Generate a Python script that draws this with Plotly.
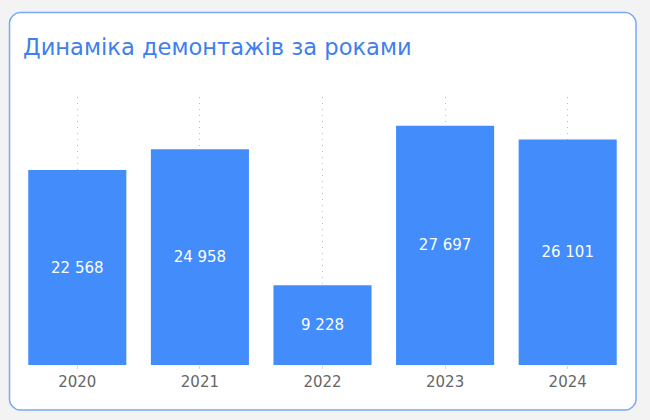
import plotly.graph_objects as go

years = ["2020", "2021", "2022", "2023", "2024"]
values = [22568, 24958, 9228, 27697, 26101]
labels = ["22 568", "24 958", "9 228", "27 697", "26 101"]

W, H = 650, 420
ml, mr, mt, mb = 16, 21, 97, 55
pw, ph = W - ml - mr, H - mt - mb

def px(x):
    return (x - ml) / pw

def py(y):
    return (H - mb - y) / ph

# rounded rectangle (pixel coords -> paper coords)
x0, x1, y0, y1, r = 9.5, 636, 12.5, 410, 10
k = 0.45 * r
path = (
    f"M {px(x0 + r)},{py(y0)} L {px(x1 - r)},{py(y0)} "
    f"C {px(x1 - r + k)},{py(y0)} {px(x1)},{py(y0 + r - k)} {px(x1)},{py(y0 + r)} "
    f"L {px(x1)},{py(y1 - r)} "
    f"C {px(x1)},{py(y1 - r + k)} {px(x1 - r + k)},{py(y1)} {px(x1 - r)},{py(y1)} "
    f"L {px(x0 + r)},{py(y1)} "
    f"C {px(x0 + r - k)},{py(y1)} {px(x0)},{py(y1 - r + k)} {px(x0)},{py(y1 - r)} "
    f"L {px(x0)},{py(y0 + r)} "
    f"C {px(x0)},{py(y0 + r - k)} {px(x0 + r - k)},{py(y0)} {px(x0 + r)},{py(y0)} Z"
)

fig = go.Figure(
    go.Bar(
        x=years,
        y=values,
        text=labels,
        textposition="inside",
        insidetextanchor="middle",
        textfont=dict(color="white", size=15, family="DejaVu Sans"),
        marker=dict(color="#428cfb", line=dict(width=0)),
        hoverinfo="skip",
    )
)

fig.update_layout(
    width=W,
    height=H,
    margin=dict(l=ml, r=mr, t=mt, b=mb),
    paper_bgcolor="#f3f3f3",
    plot_bgcolor="rgba(0,0,0,0)",
    bargap=0.2,
    showlegend=False,
    font=dict(family="DejaVu Sans"),
    title=dict(
        text="Динаміка демонтажів за роками",
        x=23 / W,
        xanchor="left",
        y=1 - 47 / H,
        yanchor="middle",
        font=dict(size=22.6, color="#3f80ec", family="DejaVu Sans"),
    ),
    xaxis=dict(
        showgrid=True,
        gridcolor="#bdbdbd",
        griddash="1px,5px",
        gridwidth=1,
        ticks="outside",
        ticklen=3,
        tickcolor="#d8d8d8",
        showline=False,
        zeroline=False,
        tickfont=dict(size=15, color="#666666", family="DejaVu Sans"),
    ),
    yaxis=dict(
        range=[0, 31020],
        visible=False,
        showgrid=False,
        zeroline=False,
    ),
    shapes=[
        dict(
            type="path",
            xref="paper",
            yref="paper",
            path=path,
            fillcolor="white",
            line=dict(color="#78a8f4", width=1.5),
            layer="below",
        )
    ],
)

fig.write_html(
    "out.html",
    config={"displayModeBar": False},
    post_script="document.body.style.margin='0';document.body.style.background='#f3f3f3';document.body.style.overflow='hidden';",
)
